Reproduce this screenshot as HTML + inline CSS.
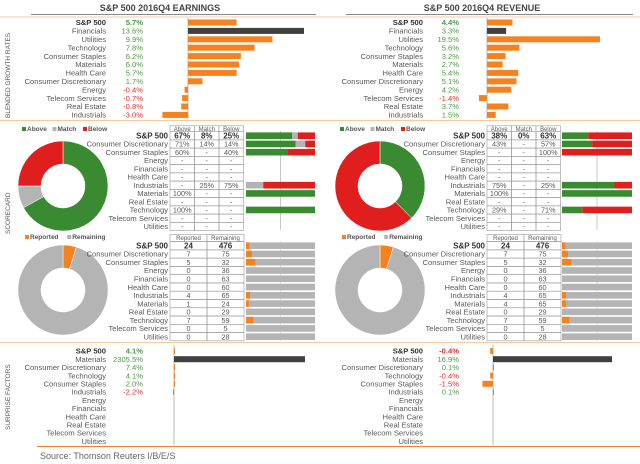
<!DOCTYPE html>
<html><head><meta charset="utf-8"><style>
html,body{margin:0;padding:0;background:#fff;}
svg{display:block;font-family:"Liberation Sans",sans-serif;}
</style></head><body>
<svg id="c" width="640" height="464" viewBox="0 0 640 464"></svg>
<script>
// ---- data ----
const growthSectors=["S&P 500","Financials","Utilities","Technology","Consumer Staples","Materials","Health Care","Consumer Discretionary","Energy","Telecom Services","Real Estate","Industrials"];
const earnGrowth=[5.7,13.6,9.9,7.8,6.2,6.0,5.7,1.7,-0.4,-0.7,-0.8,-3.0];
const revSectors=["S&P 500","Financials","Utilities","Technology","Consumer Staples","Materials","Health Care","Consumer Discretionary","Energy","Telecom Services","Real Estate","Industrials"];
const revGrowth=[4.4,3.3,19.5,5.6,3.2,2.7,5.4,5.1,4.2,-1.4,3.7,1.5];
const scoreSectors=["S&P 500","Consumer Discretionary","Consumer Staples","Energy","Financials","Health Care","Industrials","Materials","Real Estate","Technology","Telecom Services","Utilities"];
const earnAbove=[67,71,60,null,null,null,null,100,null,100,null,null];
const earnMatch=[8,14,null,null,null,null,25,null,null,null,null,null];
const earnBelow=[25,14,40,null,null,null,75,null,null,null,null,null];
const revAbove=[38,43,null,null,null,null,75,100,null,29,null,null];
const revMatch=[0,null,null,null,null,null,null,null,null,null,null,null];
const revBelow=[63,57,100,null,null,null,25,null,null,71,null,null];
const earnReported=[24,7,5,0,0,0,4,1,0,7,0,0];
const earnRemaining=[476,75,32,36,63,60,65,24,29,59,5,28];
const revReported=[24,7,5,0,0,0,4,4,0,7,0,0];
const revRemaining=[476,75,32,36,63,60,65,65,29,59,5,28];
const surpSectors=["S&P 500","Materials","Consumer Discretionary","Technology","Consumer Staples","Industrials","Energy","Financials","Health Care","Real Estate","Telecom Services","Utilities"];
const earnSurprise=[4.1,2305.5,7.4,4.1,2.0,-2.2,null,null,null,null,null,null];
const revSurprise=[-0.4,16.9,0.1,-0.4,-1.5,0.1,null,null,null,null,null,null];

const OR="#f58220",GR="#3a8a32",RD="#e01e1e",GY="#b4b4b4",DK="#404040",TX="#5a5a5a",PG="#4e9a45",NR="#e03030";
const svg=document.getElementById('c');
const NS="http://www.w3.org/2000/svg";
function el(tag,attrs,parent){const e=document.createElementNS(NS,tag);for(const k in attrs)e.setAttribute(k,attrs[k]);(parent||svg).appendChild(e);return e;}
function txt(x,y,s,opt){opt=opt||{};const t=el('text',{x:x,y:y,'font-size':opt.fs||7.6,fill:opt.fill||TX,'text-anchor':opt.anchor||'end','font-weight':opt.bold?'bold':'normal'});if(opt.rot)t.setAttribute('transform','rotate(-90 '+x+' '+y+')');t.textContent=s;return t;}

// titles
let t=txt(160,11,"S&P 500 2016Q4 EARNINGS",{anchor:'middle',fs:9,bold:true,fill:'#444'});


t=txt(482,11,"S&P 500 2016Q4 REVENUE",{anchor:'middle',fs:9,bold:true,fill:'#444'});


el('line',{x1:31,y1:14.5,x2:316,y2:14.5,stroke:'#888','stroke-width':1});
el('line',{x1:346,y1:14.5,x2:633,y2:14.5,stroke:'#888','stroke-width':1});
el('line',{x1:0,y1:17,x2:640,y2:17,stroke:'#f8c9a0','stroke-width':1});
el('line',{x1:0,y1:120.5,x2:640,y2:120.5,stroke:'#f8c9a0','stroke-width':1});
el('line',{x1:0,y1:342.5,x2:640,y2:342.5,stroke:'#f8c9a0','stroke-width':1});
el('line',{x1:37,y1:446.5,x2:640,y2:446.5,stroke:OR,'stroke-width':1});
t=txt(40,459,"Source: Thomson Reuters I/B/E/S",{anchor:'start',fs:9,fill:'#666'});


t=txt(10,118,"BLENDED GROWTH RATES",{anchor:'start',fs:6.5,rot:true,fill:'#555'});


t=txt(10,234,"SCORECARD",{anchor:'start',fs:6.5,rot:true,fill:'#555'});


t=txt(10,430,"SURPRISE FACTORS",{anchor:'start',fs:6.5,rot:true,fill:'#555'});



const rowY=(y0,sp,i)=>y0+i*sp;

function growth(names,vals,lx,vx,zero,scale,darkIdx,y0,sp,prefix,yTop,yBot){
  el('line',{x1:zero,y1:yTop,x2:zero,y2:yBot,stroke:'#aaa','stroke-width':0.8});
  names.forEach((n,i)=>{
    const y=rowY(y0,sp,i);
    const l=txt(lx,y+2.7,n,{bold:i===0,fill:i===0?'#333':TX});
    
    
    const v=vals[i];
    if(v===null||v===undefined)return;
    const vt=txt(vx,y+2.7,v.toFixed(1)+'%',{bold:i===0,fill:v<0?NR:PG});
    
    
    let w=Math.abs(v)*scale; if(w<1)w=1;
    const x=v>=0?zero:zero-w;
    const r=el('rect',{x:x,y:y-3,width:w,height:6,fill:i===darkIdx?DK:OR});
    
    
  });
}
growth(growthSectors,earnGrowth,106,143,188,116/13.6,1,22.5,8.4,'earnings-growth',18,119);
growth(revSectors,revGrowth,423,459,487,113/19.5,1,22.5,8.4,'revenue-growth',18,119);

function donut(cx,cy,ro,ri,vals,cols,name){
  const tot=vals.reduce((a,b)=>a+b,0);let a0=0;
  vals.forEach((v,i)=>{
    if(!v)return;
    const a1=a0+v/tot*2*Math.PI;
    const p=(a,r)=>[cx+r*Math.sin(a),cy-r*Math.cos(a)];
    const big=(a1-a0)>Math.PI?1:0;
    const [x1,y1]=p(a0,ro),[x2,y2]=p(a1,ro),[x3,y3]=p(a1,ri),[x4,y4]=p(a0,ri);
    const d=`M${x1},${y1}A${ro},${ro} 0 ${big} 1 ${x2},${y2}L${x3},${y3}A${ri},${ri} 0 ${big} 0 ${x4},${y4}Z`;
    const s=el('path',{d:d,fill:cols[i],stroke:'#fff','stroke-width':0.5});
    
    
    a0=a1;
  });
}
function legend(x,y,items){
  let cx=x;
  items.forEach(([lab,col])=>{
    el('rect',{x:cx,y:y-4,width:4,height:4,fill:col});
    const l=txt(cx+5,y,lab,{anchor:'start',fs:6.5,bold:true,fill:'#555'});
    
    
    cx+=5+lab.length*3.9+6;
  });
}
const fmt=v=>(v===null||v===undefined)?'-':v+'%';
function table(colX,colW,y0,sp,names,lx,vals,prefix){
  names.forEach((n,i)=>{
    const y=rowY(y0,sp,i);
    const l=txt(lx,y+2.7,n,{bold:i===0,fill:i===0?'#333':TX,fs:i===0?8:7.6});
    
    
    vals.forEach((arr,j)=>{
      el('rect',{x:colX[j],y:y-4.1,width:colW,height:sp,fill:'none',stroke:'#999','stroke-width':0.6});
      const c=txt(colX[j]+colW/2,y+2.7,arr[i],{anchor:'middle',bold:i===0,fill:i===0?'#333':TX,fs:i===0?8:7.3});
      
      
    });
  });
}
function score(side){
  const L=side==='L';
  const ab=L?earnAbove:revAbove, ma=L?earnMatch:revMatch, be=L?earnBelow:revBelow;
  const cx=L?63:380, tx=L?170:487, bx=L?246:562, bw=L?69:70, lx=L?168:485;
  legend(L?22:340,131,[["Above",GR],["Match",GY],["Below",RD]]);
  donut(cx,186,45,22,[ab[0]||0,ma[0]||0,be[0]||0],[GR,GY,RD],(L?'earnings':'revenue')+'-scorecard-donut');
  const vals=[ab.map(fmt),ma.map(fmt),be.map(fmt)];
  table([tx,tx+24.5,tx+49],24.5,135.7,8.25,scoreSectors,lx,vals,(L?'earnings':'revenue')+'-scorecard');
  ["Above","Match","Below"].forEach((c,j)=>{
    el('rect',{x:tx+j*24.5,y:125.8,width:24.5,height:5.8,fill:'#fff',stroke:'#999','stroke-width':0.6});
    txt(tx+j*24.5+12.25,130.9,c,{anchor:'middle',fs:6});
  });
  el('line',{x1:bx+bw/2,y1:131,x2:bx+bw/2,y2:230,stroke:'#bbb','stroke-width':0.8});
  scoreSectors.forEach((n,i)=>{
    const y=rowY(135.7,8.25,i);
    const parts=[[ab[i]||0,GR],[ma[i]||0,GY],[be[i]||0,RD]];
    const tot=parts.reduce((a,p)=>a+p[0],0); if(!tot)return;
    let x=bx;
    parts.forEach(([v,c])=>{ if(!v)return; const w=v/tot*bw;
      const r=el('rect',{x:x,y:y-3.3,width:w,height:6.6,fill:c});
      
      
      x+=w;});
  });
}
score('L');score('R');

function reported(side){
  const L=side==='L';
  const rp=L?earnReported:revReported, rm=L?earnRemaining:revRemaining;
  const cx=L?63:380, tx=L?170:487, bx=L?246:562, bw=L?69:70, lx=L?168:485;
  legend(L?25:342,239,[["Reported",OR],["Remaining",GY]]);
  donut(cx,290,45,22,[rp[0],rm[0]],[OR,GY],(L?'earnings':'revenue')+'-reported-donut');
  [["Reported",0],["Remaining",1]].forEach(([c,j])=>{
    el('rect',{x:tx+j*37,y:234.6,width:37,height:7,fill:'#fff',stroke:'#999','stroke-width':0.6});
    txt(tx+j*37+18.5,240,c,{anchor:'middle',fs:6});
  });
  el('line',{x1:bx+bw/2,y1:241,x2:bx+bw/2,y2:341,stroke:'#ddd','stroke-width':0.8});
  table([tx,tx+37],37,245.7,8.27,scoreSectors,lx,[rp.map(String),rm.map(String)],(L?'earnings':'revenue')+'-reported');
  scoreSectors.forEach((n,i)=>{
    const y=rowY(245.7,8.27,i);
    const tot=rp[i]+rm[i]; const w=rp[i]/tot*bw;
    const g=el('rect',{x:bx,y:y-3.3,width:bw,height:6.6,fill:GY});
    
    
    if(w>0){const o=el('rect',{x:bx,y:y-3.3,width:w,height:6.6,fill:OR});
      
      }
  });
}
reported('L');reported('R');

growth(surpSectors,earnSurprise,106,143,174,131/2305.5,1,351,8.2,'earnings-surprise',345,445);
growth(surpSectors,revSurprise,423,459,493,119/16.9,1,351,8.2,'revenue-surprise',345,445);
</script>
</body></html>
